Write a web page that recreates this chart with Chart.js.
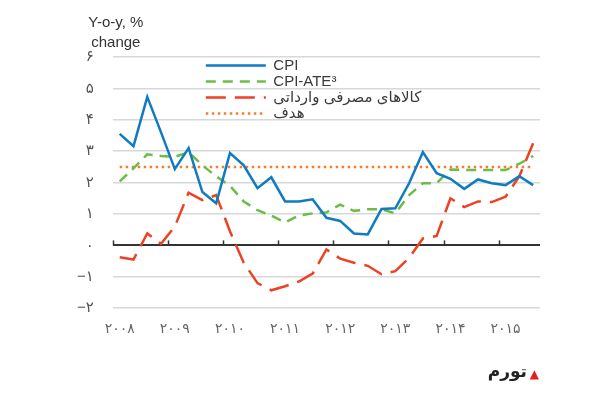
<!DOCTYPE html>
<html>
<head>
<meta charset="utf-8">
<script src="https://cdn.jsdelivr.net/npm/chart.js@4.4.0/dist/chart.umd.min.js"></script>
<style>
    body { margin: 0; background: #fff; }
    #box { width: 600px; height: 400px; }
</style>
</head>
<body>
<div id="box"><canvas id="graficoTavarom" width="600" height="400"></canvas></div>
<script>

// dados trimestrais 2008T1 - 2015T3
const trimestres = ['2008Q1', '2008Q2', '2008Q3', '2008Q4', '2009Q1', '2009Q2', '2009Q3', '2009Q4',
    '2010Q1', '2010Q2', '2010Q3', '2010Q4', '2011Q1', '2011Q2', '2011Q3', '2011Q4',
    '2012Q1', '2012Q2', '2012Q3', '2012Q4', '2013Q1', '2013Q2', '2013Q3', '2013Q4',
    '2014Q1', '2014Q2', '2014Q3', '2014Q4', '2015Q1', '2015Q2', '2015Q3'];

const cpi = [3.55, 3.16, 4.73, 3.6, 2.43, 3.1, 1.7, 1.34, 2.94, 2.55, 1.82, 2.17, 1.4, 1.4, 1.47, 0.88,
    0.78, 0.38, 0.35, 1.16, 1.18, 1.98, 2.97, 2.3, 2.12, 1.8, 2.1, 1.98, 1.92, 2.2, 1.92];

const cpiAte = [2.04, 2.45, 2.9, 2.85, 2.82, 2.97, 2.55, 2.2, 1.9, 1.4, 1.12, 0.95, 0.73, 0.95, 1.02, 1.05,
    1.3, 1.1, 1.15, 1.15, 1.02, 1.6, 1.98, 1.98, 2.42, 2.4, 2.4, 2.4, 2.4, 2.6, 2.85];

const kalaha = [-0.38, -0.45, 0.38, 0.05, 0.6, 1.68, 1.44, 1.6, 0.45, -0.55, -1.2, -1.43, -1.3, -1.15, -0.9, -0.13,
    -0.42, -0.55, -0.65, -0.92, -0.82, -0.4, 0.22, 0.3, 1.5, 1.22, 1.4, 1.38, 1.55, 2.2, 3.25];

const hadaf = [2.5, 2.5, 2.5, 2.5, 2.5, 2.5, 2.5, 2.5, 2.5, 2.5, 2.5, 2.5, 2.5, 2.5, 2.5, 2.5,
    2.5, 2.5, 2.5, 2.5, 2.5, 2.5, 2.5, 2.5, 2.5, 2.5, 2.5, 2.5, 2.5, 2.5, 2.5];

// rotulos dos eixos (algarismos persas)
const anos = ['۲۰۰۸', '۲۰۰۹', '۲۰۱۰', '۲۰۱۱', '۲۰۱۲', '۲۰۱۳', '۲۰۱۴', '۲۰۱۵'];
const rotulosY = ['−۲', '−۱', '۰', '۱', '۲', '۳', '۴', '۵', '۶'];

const fonte = '"Liberation Sans", "DejaVu Sans", sans-serif';

// marcas dos anos sobre a linha do zero
const marcasAno = {
    id: 'marcasAno',
    beforeDatasetsDraw(chart) {
        const x = chart.scales.x, y = chart.scales.y;
        const c = chart.ctx;
        const meio = (x.getPixelForValue(1) - x.getPixelForValue(0)) / 2;
        const y0 = y.getPixelForValue(0);
        c.save();
        c.strokeStyle = '#333';
        c.lineWidth = 1.5;
        for (let i = 0; i < trimestres.length; i += 4) {
            const px = Math.round(x.getPixelForValue(i) - meio) + 0.5;
            c.beginPath();
            c.moveTo(px, y0);
            c.lineTo(px, y0 - 5);
            c.stroke();
        }
        c.restore();
    }
};

// legenda dentro da area, deslocada para a direita
const moveLegenda = {
    id: 'moveLegenda',
    afterLayout(chart) {
        const a = chart.chartArea;
        chart.legend.left = a.left + 92;
        chart.legend.right = a.right;
        chart.legend.top = a.top;
        chart.legend.bottom = a.bottom;
    }
};

// textos: titulo do eixo e nota "تورم"
const textos = {
    id: 'textos',
    afterDraw(chart) {
        const c = chart.ctx;
        const a = chart.chartArea;
        c.save();
        c.fillStyle = '#333';
        c.font = '15px ' + fonte;
        c.textAlign = 'center';
        c.textBaseline = 'middle';
        c.fillText('Y-o-y, %', a.left + 3, 23);
        c.fillText('change', a.left + 3, 43);

        c.textAlign = 'right';
        c.fillStyle = '#e3201b';
        c.font = '12px "DejaVu Sans", sans-serif';
        c.fillText('▲', 539, 375);
        c.fillStyle = '#222';
        c.font = 'bold 17px "DejaVu Sans", sans-serif';
        c.fillText('تورم', 527, 373);
        c.restore();
    }
};

const ctx = document.getElementById('graficoTavarom').getContext('2d');

new Chart(ctx, {
    type: 'line',
    data: {
        labels: trimestres,
        datasets: [
            {
                label: 'CPI',
                data: cpi,
                borderColor: '#0f7bc1',
                borderWidth: 2.5
            },
            {
                label: 'CPI-ATE³',
                data: cpiAte,
                borderColor: '#6cbd45',
                borderWidth: 2.5,
                borderDash: [10, 7]
            },
            {
                label: 'کالاهای مصرفی وارداتی',
                data: kalaha,
                borderColor: '#ee4123',
                borderWidth: 2.5,
                borderDash: [20, 9]
            },
            {
                label: 'هدف',
                data: hadaf,
                borderColor: '#f47d30',
                borderWidth: 2.5,
                borderDash: [2.5, 3.5]
            }
        ]
    },
    plugins: [marcasAno, moveLegenda, textos],
    options: {
        responsive: false,
        animation: false,
        layout: {
            padding: { left: 58, right: 60, top: 57, bottom: 57 }
        },
        elements: {
            point: { radius: 0 },
            line: { tension: 0, fill: false }
        },
        plugins: {
            legend: {
                position: 'chartArea',
                align: 'start',
                labels: {
                    usePointStyle: true,
                    pointStyle: 'line',
                    pointStyleWidth: 60,
                    padding: 1,
                    color: '#3a3a3a',
                    font: { family: fonte, size: 15 },
                    // traço da linha vem do dataset (nao do ponto)
                    generateLabels: (chart) => Chart.defaults.plugins.legend.labels.generateLabels(chart).map((it) => {
                        const ds = chart.data.datasets[it.datasetIndex];
                        it.lineDash = ds.borderDash || [];
                        it.lineWidth = ds.borderWidth;
                        it.lineCap = 'butt';
                        return it;
                    })
                }
            },
            tooltip: { enabled: false }
        },
        scales: {
            x: {
                offset: true,
                grid: { display: false },
                border: { display: false },
                ticks: {
                    autoSkip: false,
                    maxRotation: 0,
                    padding: 5,
                    color: '#666',
                    font: { family: fonte, size: 14 },
                    callback: (v, i) => (i % 4 === 0 ? anos[i / 4] : '')
                }
            },
            y: {
                min: -2,
                max: 6,
                border: { display: false },
                grid: {
                    drawTicks: false,
                    lineWidth: (c) => (c.tick && c.tick.value === 0 ? 2 : 1.5),
                    color: (c) => (c.tick && c.tick.value === 0 ? '#333' : '#d6d8db')
                },
                ticks: {
                    stepSize: 1,
                    padding: 19,
                    color: '#555',
                    font: { family: fonte, size: 15 },
                    callback: (v) => rotulosY[v + 2]
                }
            }
        }
    }
});

</script>
</body>
</html>
